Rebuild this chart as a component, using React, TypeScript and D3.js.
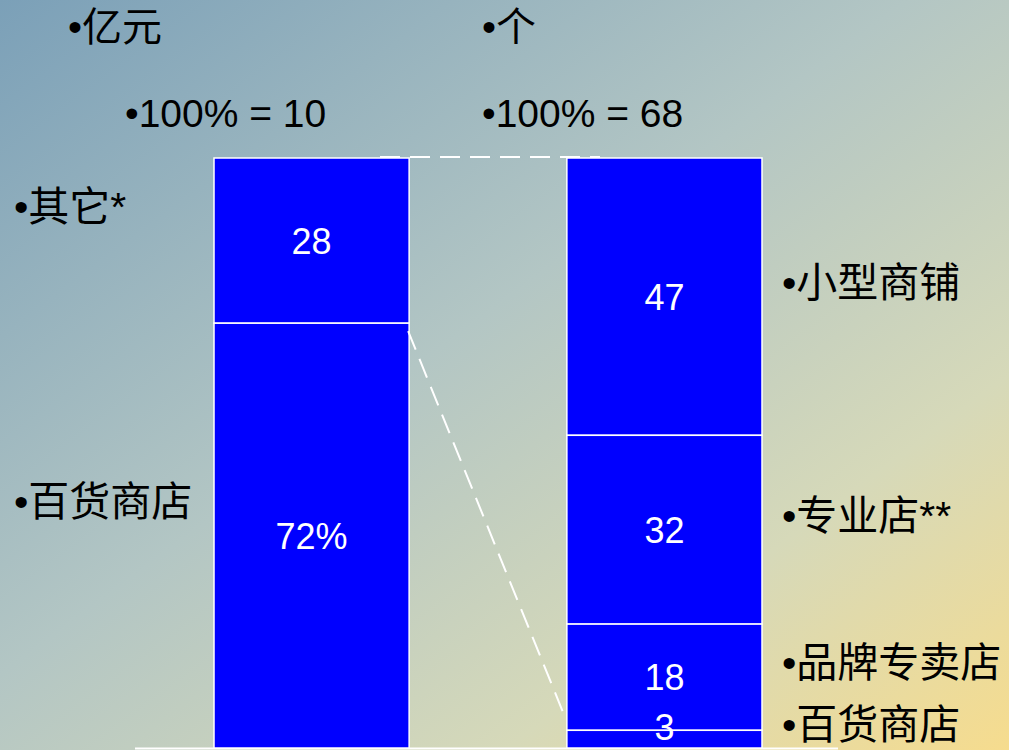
import React from "react";
import * as d3 from "d3";

// Column units and totals shown above each bar
const columnKeys = ["sales", "stores"];
const columnUnits = ["亿元", "个"];
const columnTotals = ["100% = 10", "100% = 68"];

// Left bar: sales split (top to bottom)
const salesCategories = ["其它*", "百货商店"];
const salesValues = [28, 72];
const salesLabels = ["28", "72%"];

// Right bar: store count split (top to bottom)
const storeCategories = ["小型商铺", "专业店**", "品牌专卖店", "百货商店"];
const storeValues = [47, 32, 18, 3];
const storeLabels = ["47", "32", "18", "3"];

const W = 1009;
const H = 750;
const FONT = "'Liberation Sans', Arial, 'Noto Sans CJK SC', sans-serif";

type Seg = { cat: string; value: number; label: string; y0: number; y1: number };

function segments(cats: string[], vals: number[], labels: string[]): Seg[] {
  const ends = Array.from(d3.cumsum(vals));
  return cats.map((cat, i) => ({
    cat,
    value: vals[i],
    label: labels[i],
    y0: ends[i] - vals[i],
    y1: ends[i],
  }));
}

export default function App() {
  const x = d3.scaleBand<string>().domain(columnKeys).range([214, 762]).paddingInner(0.447).paddingOuter(0);
  const y = d3.scaleLinear().domain([0, 100]).range([158, 748]);
  const bw = x.bandwidth();

  const sales = segments(salesCategories, salesValues, salesLabels);
  const stores = segments(storeCategories, storeValues, storeLabels);

  const xs = x("sales")!;
  const xr = x("stores")!;

  // connector from the split on the left bar to the last split on the right bar
  const leftSplit = y(sales[0].y1);
  const rightSplit = y(stores[stores.length - 1].y0);

  const mid = (s: Seg) => (y(s.y0) + y(s.y1)) / 2;

  const bar = (segs: Seg[], x0: number) =>
    segs.map((s, i) => (
      <rect
        key={i}
        x={x0}
        y={y(s.y0)}
        width={bw}
        height={y(s.y1) - y(s.y0)}
        fill="#0000ff"
        stroke="#ffffff"
        strokeWidth={1.5}
      />
    ));

  const valueText = (segs: Seg[], x0: number) =>
    segs.map((s, i) => {
      const cy = Math.min(mid(s), 727);
      return (
        <text
          key={i}
          x={x0 + bw / 2}
          y={cy + 13}
          textAnchor="middle"
          fill="#ffffff"
          fontSize={36}
          fontFamily={FONT}
        >
          {s.label}
        </text>
      );
    });

  return (
    <svg
      width={W}
      height={H}
      viewBox={`0 0 ${W} ${H}`}
      style={{ position: "absolute", left: 0, top: 0, display: "block" }}
    >
      <defs>
        <linearGradient id="bg" x1="0" y1="0" x2="1" y2="1">
          <stop offset="0" stopColor="#7ba0b8" />
          <stop offset="0.45" stopColor="#b3c6c4" />
          <stop offset="0.75" stopColor="#d6d9b9" />
          <stop offset="1" stopColor="#f6dc8e" />
        </linearGradient>
      </defs>
      <rect x={0} y={0} width={W} height={H} fill="url(#bg)" />

      {/* unit and total headers */}
      {columnKeys.map((k, i) => {
        const tx = i === 0 ? 68 : 482;
        const tx2 = i === 0 ? 125 : 482;
        return (
          <g key={k} fontFamily={FONT} fill="#000">
            <text x={tx} y={41} fontSize={40}>
              {"•" + columnUnits[i]}
            </text>
            <text x={tx2} y={127} fontSize={39}>
              {"•" + columnTotals[i]}
            </text>
          </g>
        );
      })}

      {/* baseline */}
      <line x1={135} x2={838} y1={y(100) + 0.5} y2={y(100) + 0.5} stroke="#ffffff" strokeWidth={2} />

      {bar(sales, xs)}
      {bar(stores, xr)}
      {valueText(sales, xs)}
      {valueText(stores, xr)}

      {/* dashed connectors */}
      <line
        x1={380}
        x2={600}
        y1={y(0) - 1}
        y2={y(0) - 1}
        stroke="#ffffff"
        strokeWidth={2}
        strokeDasharray="20,10"
      />
      <line
        x1={xs + bw - 1}
        y1={leftSplit + 8}
        x2={xr - 3}
        y2={rightSplit - 16}
        stroke="#ffffff"
        strokeWidth={2}
        strokeDasharray="20,10"
      />

      {/* category labels, left */}
      {sales.map((s, i) => (
        <text key={i} x={14} y={mid(s) - 20} fontSize={41} fontFamily={FONT} fill="#000">
          {"•" + s.cat}
        </text>
      ))}

      {/* category labels, right */}
      {stores.map((s, i) => (
        <text
          key={i}
          x={782}
          y={Math.min(mid(s) - 15, 728) + 15}
          fontSize={41}
          fontFamily={FONT}
          fill="#000"
        >
          {"•" + s.cat}
        </text>
      ))}
    </svg>
  );
}
